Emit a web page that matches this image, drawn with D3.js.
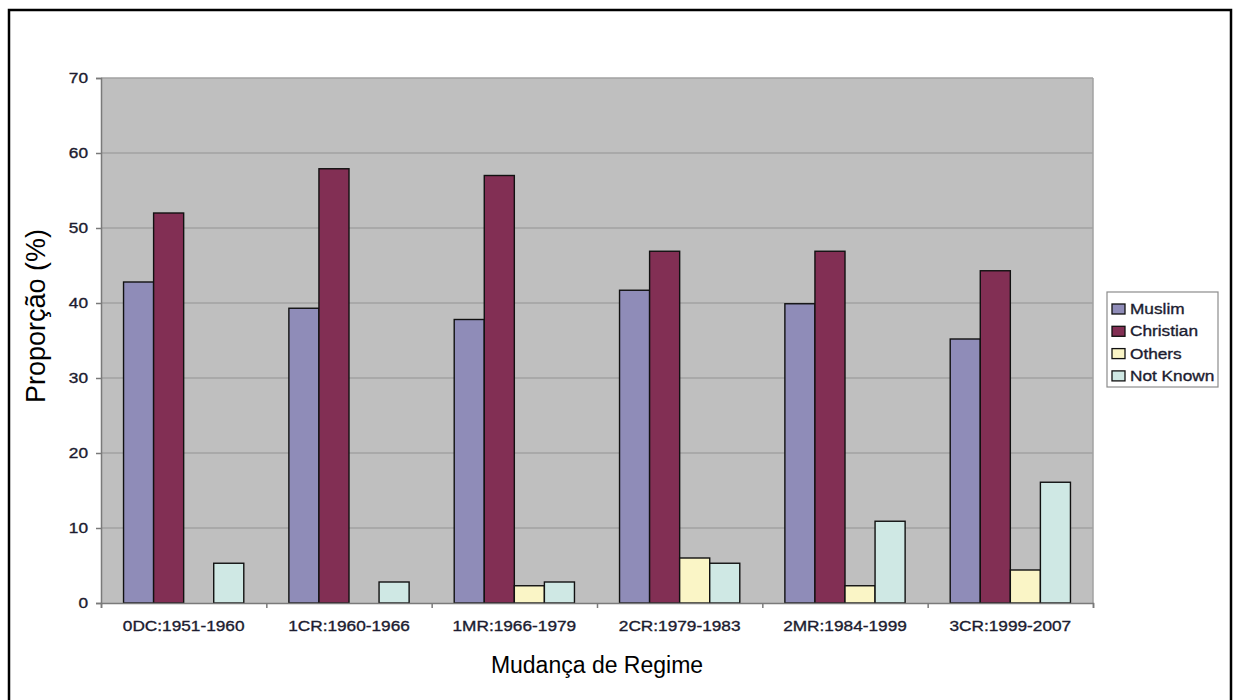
<!DOCTYPE html>
<html>
<head>
<meta charset="utf-8">
<script src="https://cdn.jsdelivr.net/npm/d3@7"></script>
<style>
  html, body { margin: 0; padding: 0; background: #ffffff; }
  svg { display: block; }
  text { font-family: "Liberation Sans", Arial, Helvetica, sans-serif; }
</style>
</head>
<body>
<svg id="chart" width="1234" height="700"></svg>
<script>
// Regime periods along the x axis
const categories = ["0DC:1951-1960", "1CR:1960-1966", "1MR:1966-1979", "2CR:1979-1983", "2MR:1984-1999", "3CR:1999-2007"];
const seriesNames = ["Muslim", "Christian", "Others", "Not Known"];

// Share of each religious group (%) per period
const muslim    = [42.8, 39.3, 37.8, 41.7, 39.9, 35.2];
const christian = [52.0, 57.9, 57.0, 46.9, 46.9, 44.3];
const others    = [0,    0,    2.3,  6.0,  2.3,  4.4];
const notKnown  = [5.3,  2.8,  2.8,  5.3, 10.9, 16.1];

const yTicks = [0, 10, 20, 30, 40, 50, 60, 70];
const colors = ["#8f8cb8", "#822f54", "#faf5c6", "#cfe8e4"];

const seriesValues = [muslim, christian, others, notKnown];

const svg = d3.select("#chart");
const plot = { left: 101, right: 1093, top: 78, bottom: 603 };
const textColor = "#1c1c30";
const sx = 1.15; // horizontal widening of small labels

// outer frame
svg.append("rect")
  .attr("x", 9).attr("y", 10).attr("width", 1222).attr("height", 700)
  .attr("fill", "none").attr("stroke", "#000").attr("stroke-width", 2.5);

const x0 = d3.scaleBand().domain(categories).range([plot.left, plot.right]).paddingInner(0).paddingOuter(0);
const x1 = d3.scaleBand().domain(seriesNames).range([0, x0.bandwidth()]).paddingInner(0).paddingOuter(0.75);
const y = d3.scaleLinear().domain([0, 70]).range([plot.bottom, plot.top]);
const color = d3.scaleOrdinal().domain(seriesNames).range(colors);

// plot background
svg.append("rect")
  .attr("x", plot.left).attr("y", plot.top)
  .attr("width", plot.right - plot.left).attr("height", plot.bottom - plot.top)
  .attr("fill", "#bfbfbf");

// horizontal gridlines
svg.append("g")
  .selectAll("line")
  .data(yTicks.filter(d => d > 0))
  .join("line")
  .attr("x1", plot.left).attr("x2", plot.right)
  .attr("y1", d => y(d)).attr("y2", d => y(d))
  .attr("stroke", "#a2a2a2").attr("stroke-width", 1.5);

// right edge of plot area
svg.append("line")
  .attr("x1", plot.right).attr("x2", plot.right)
  .attr("y1", plot.top).attr("y2", plot.bottom)
  .attr("stroke", "#a2a2a2").attr("stroke-width", 1.5);

// bars
const groups = svg.append("g")
  .selectAll("g")
  .data(categories)
  .join("g")
  .attr("transform", d => `translate(${x0(d)},0)`);

groups.selectAll("rect")
  .data((c, i) => seriesNames.map((s, j) => ({ s, v: seriesValues[j][i] })).filter(d => d.v > 0))
  .join("rect")
  .attr("x", d => x1(d.s))
  .attr("width", x1.bandwidth())
  .attr("y", d => y(d.v))
  .attr("height", d => y(0) - y(d.v))
  .attr("fill", d => color(d.s))
  .attr("stroke", "#111")
  .attr("stroke-width", 1.4);

// y axis
const yAxis = svg.append("g")
  .attr("transform", `translate(${plot.left},0)`)
  .call(d3.axisLeft(y).tickValues(yTicks).tickSize(5).tickPadding(8));
yAxis.select(".domain").attr("stroke", "#7a7a7a").attr("stroke-width", 1.5);
yAxis.selectAll(".tick line").attr("stroke", "#7a7a7a").attr("stroke-width", 1.5);
yAxis.selectAll(".tick text")
  .attr("x", -13 / sx)
  .attr("transform", `scale(${sx},1)`)
  .attr("font-size", 15)
  .attr("fill", textColor)
  .attr("stroke", textColor).attr("stroke-width", 0.35);

// x axis: boundary ticks between periods
const xEdge = d3.scaleLinear().domain([0, categories.length]).range([plot.left, plot.right]);
const xTickAxis = svg.append("g")
  .attr("transform", `translate(0,${plot.bottom})`)
  .call(d3.axisBottom(xEdge).tickValues(d3.range(0, categories.length + 1)).tickSize(5).tickFormat(""));
xTickAxis.select(".domain").attr("stroke", "#7a7a7a").attr("stroke-width", 1.5);
xTickAxis.selectAll(".tick line").attr("stroke", "#7a7a7a").attr("stroke-width", 1.5);

// x axis: period labels
const xAxis = svg.append("g")
  .attr("transform", `translate(0,${plot.bottom})`)
  .call(d3.axisBottom(x0).tickSize(0).tickPadding(17));
xAxis.select(".domain").remove();
xAxis.selectAll(".tick text")
  .attr("transform", `scale(${sx},1)`)
  .attr("font-size", 15)
  .attr("fill", textColor)
  .attr("stroke", textColor).attr("stroke-width", 0.35);

// axis titles
svg.append("text")
  .attr("x", (plot.left + plot.right) / 2)
  .attr("y", 673)
  .attr("text-anchor", "middle")
  .attr("font-size", 23)
  .attr("fill", "#000")
  .text("Mudança de Regime");

svg.append("text")
  .attr("transform", "translate(45,316) rotate(-90)")
  .attr("text-anchor", "middle")
  .attr("font-size", 27)
  .attr("fill", "#000")
  .text("Proporção (%)");

// legend
const legend = svg.append("g").attr("transform", "translate(1107,292)");
legend.append("rect")
  .attr("width", 111).attr("height", 95)
  .attr("fill", "#fff").attr("stroke", "#8c8c8c").attr("stroke-width", 1.2);
const items = legend.selectAll("g.item")
  .data(seriesNames)
  .join("g")
  .attr("class", "item")
  .attr("transform", (d, i) => `translate(0,${22 + i * 22.3})`);
items.append("rect")
  .attr("x", 5).attr("y", -10)
  .attr("width", 13).attr("height", 10)
  .attr("fill", d => color(d))
  .attr("stroke", "#111").attr("stroke-width", 1.3);
items.append("text")
  .attr("x", 23 / sx)
  .attr("transform", `scale(${sx},1)`)
  .attr("font-size", 15)
  .attr("fill", textColor)
  .attr("stroke", textColor).attr("stroke-width", 0.35)
  .text(d => d);
</script>
</body>
</html>
